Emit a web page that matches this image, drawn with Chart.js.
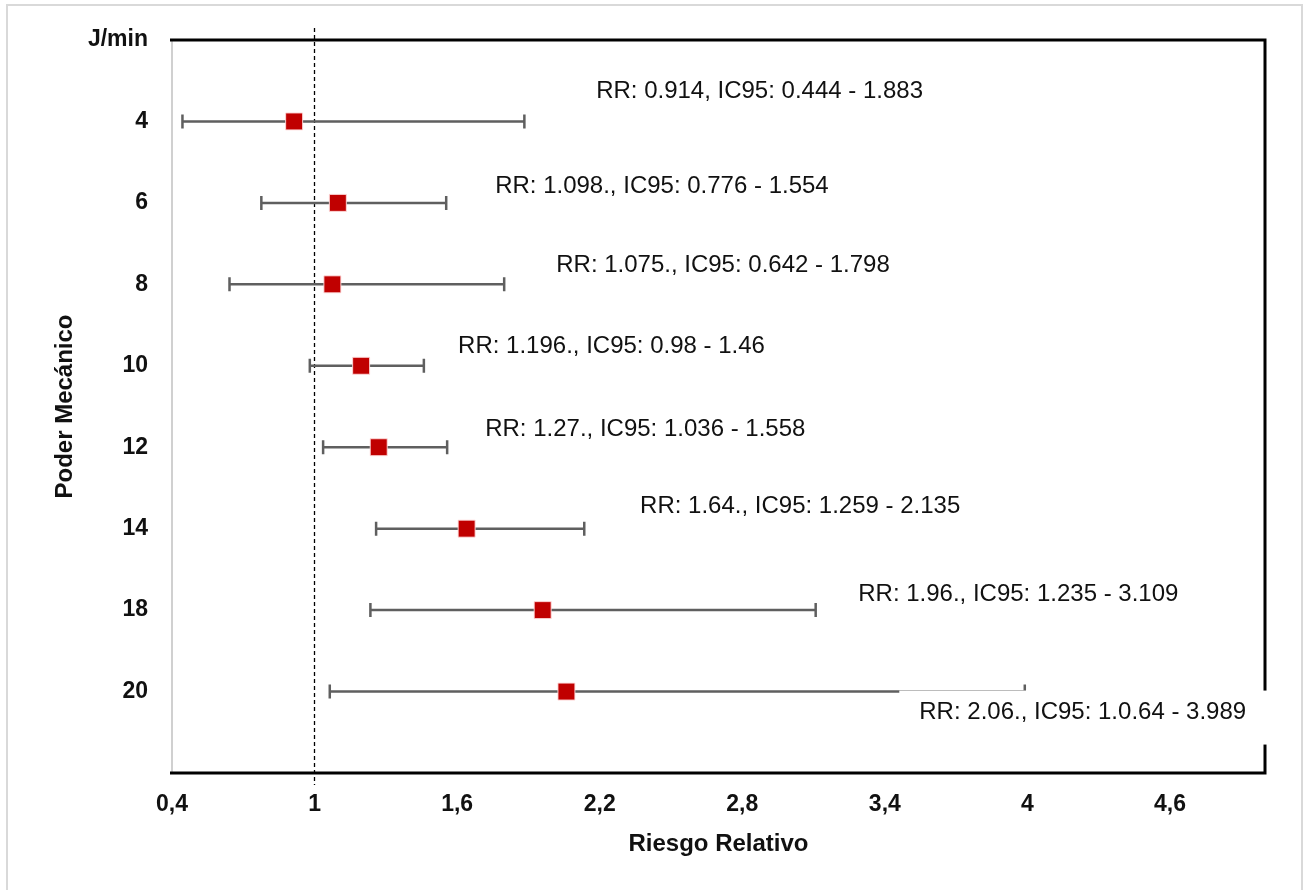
<!DOCTYPE html>
<html>
<head>
<meta charset="utf-8">
<script src="https://cdn.jsdelivr.net/npm/chart.js@4"></script>
<style>
  html, body { margin: 0; padding: 0; background: #fff; }
  #wrap { width: 1304px; height: 890px; }
</style>
</head>
<body>
<div id="wrap"><canvas id="c" width="1304" height="890"></canvas></div>
<script>
// Forest plot: relative risk by mechanical power (J/min)

const CATEGORIES = ["J/min", "4", "6", "8", "10", "12", "14", "18", "20"];
const GROUPS = ["4", "6", "8", "10", "12", "14", "18", "20"];
const RR = [0.914, 1.098, 1.075, 1.196, 1.27, 1.64, 1.96, 2.06];
const CI_LOW = [0.444, 0.776, 0.642, 0.98, 1.036, 1.259, 1.235, 1.064];
const CI_HIGH = [1.883, 1.554, 1.798, 1.46, 1.558, 2.135, 3.109, 3.989];
const RR_TEXT = [
  "RR: 0.914, IC95: 0.444 - 1.883",
  "RR: 1.098., IC95: 0.776 - 1.554",
  "RR: 1.075., IC95: 0.642 - 1.798",
  "RR: 1.196., IC95: 0.98 - 1.46",
  "RR: 1.27., IC95: 1.036 - 1.558",
  "RR: 1.64., IC95: 1.259 - 2.135",
  "RR: 1.96., IC95: 1.235 - 3.109",
  "RR: 2.06., IC95: 1.0.64 - 3.989",
];
const X_TICKS = [0.4, 1, 1.6, 2.2, 2.8, 3.4, 4, 4.6];
const REF_LINE = 1;

// where each annotation sits: x in axis units, dy in px from its row
const LABEL_X = [2.185, 1.76, 2.017, 1.604, 1.718, 2.37, 3.288, 3.545];
const LABEL_DY = [-30, -17, -19, -19, -18, -22, -16, 21];
const BOXED = [false, false, false, false, false, false, false, true];

const FONT = "'Liberation Sans', Arial, sans-serif";
const rowY = (g) => CATEGORIES.length - CATEGORIES.indexOf(g);

const frame = {
  id: "frame",
  beforeDraw(chart) {
    const { ctx } = chart;
    ctx.save();
    ctx.strokeStyle = "#d9d9d9";
    ctx.lineWidth = 2;
    ctx.strokeRect(7, 5, 1295, 886);
    ctx.restore();
  },
  beforeDatasetsDraw(chart) {
    const { ctx, chartArea: a, scales: { x, y } } = chart;
    ctx.save();
    // reference line at RR = 1
    const rx = Math.round(x.getPixelForValue(REF_LINE)) - 0.5;
    ctx.strokeStyle = "#000";
    ctx.lineWidth = 1.3;
    ctx.setLineDash([4, 3]);
    ctx.beginPath();
    ctx.moveTo(rx, a.top - 12);
    ctx.lineTo(rx, a.bottom + 12);
    ctx.stroke();
    ctx.setLineDash([]);
    // confidence intervals
    ctx.strokeStyle = "#5f5f5f";
    ctx.lineWidth = 2.5;
    GROUPS.forEach((g, i) => {
      const py = y.getPixelForValue(rowY(g));
      const x0 = x.getPixelForValue(CI_LOW[i]);
      const x1 = x.getPixelForValue(CI_HIGH[i]);
      ctx.beginPath();
      ctx.moveTo(x0, py); ctx.lineTo(x1, py);
      ctx.moveTo(x0, py - 7); ctx.lineTo(x0, py + 7);
      ctx.moveTo(x1, py - 7); ctx.lineTo(x1, py + 7);
      ctx.stroke();
    });
    ctx.restore();
  },
  afterDatasetsDraw(chart) {
    const { ctx, chartArea: a, scales: { x, y } } = chart;
    ctx.save();
    // axis frame
    ctx.strokeStyle = "#d0d0d0";
    ctx.lineWidth = 2;
    ctx.beginPath();
    ctx.moveTo(a.left, a.top); ctx.lineTo(a.left, a.bottom);
    ctx.stroke();
    ctx.strokeStyle = "#000";
    ctx.lineWidth = 3;
    ctx.beginPath();
    ctx.moveTo(a.left - 2, a.top); ctx.lineTo(a.right, a.top);
    ctx.lineTo(a.right, a.bottom); ctx.lineTo(a.left - 2, a.bottom);
    ctx.stroke();
    // annotations
    ctx.font = "24px " + FONT;
    ctx.textBaseline = "middle";
    ctx.textAlign = "left";
    GROUPS.forEach((g, i) => {
      const tx = x.getPixelForValue(LABEL_X[i]);
      const ty = y.getPixelForValue(rowY(g)) + LABEL_DY[i];
      if (BOXED[i]) {
        const w = ctx.measureText(RR_TEXT[i]).width;
        ctx.fillStyle = "#fff";
        ctx.fillRect(tx - 20, ty - 22, w + 52, 54);
      }
      ctx.fillStyle = "#111";
      ctx.fillText(RR_TEXT[i], tx, ty);
    });
    ctx.restore();
  },
};

new Chart(document.getElementById("c"), {
  type: "scatter",
  data: {
    datasets: [{
      data: GROUPS.map((g, i) => ({ x: RR[i], y: rowY(g) })),
      pointStyle: "rect",
      pointRadius: 12,
      pointHoverRadius: 12,
      backgroundColor: "#c00000",
      borderColor: "rgba(255,220,220,0.9)",
      borderWidth: 1,
    }],
  },
  options: {
    responsive: false,
    animation: false,
    events: [],
    layout: { padding: { top: 40, right: 39, left: 0, bottom: 0 } },
    plugins: { legend: { display: false }, tooltip: { enabled: false } },
    scales: {
      x: {
        type: "linear",
        min: 0.4,
        max: 5.0,
        afterBuildTicks: (s) => { s.ticks = X_TICKS.map((v) => ({ value: v })); },
        afterFit: (s) => { s.height = 117; },
        grid: { display: false, drawTicks: false },
        border: { display: false },
        ticks: {
          padding: 18,
          color: "#111",
          font: { family: FONT, size: 23, weight: "bold" },
          callback: (v) => String(v).replace(".", ","),
          maxRotation: 0,
        },
        title: {
          display: true,
          text: "Riesgo Relativo",
          color: "#111",
          font: { family: FONT, size: 24, weight: "bold", lineHeight: 1.2 },
          padding: { top: 0, bottom: 31 },
        },
      },
      y: {
        type: "linear",
        min: 0,
        max: CATEGORIES.length,
        afterBuildTicks: (s) => { s.ticks = CATEGORIES.map((c) => ({ value: rowY(c) })); },
        afterFit: (s) => { s.width = 172; },
        grid: { display: false, drawTicks: false },
        border: { display: false },
        ticks: {
          padding: 24,
          color: "#111",
          font: { family: FONT, size: 23, weight: "bold" },
          callback: (v) => CATEGORIES[CATEGORIES.length - v] ?? "",
        },
        title: {
          display: true,
          text: "Poder Mecánico",
          color: "#111",
          font: { family: FONT, size: 24, weight: "bold", lineHeight: 1.2 },
          padding: { top: 51, bottom: 0 },
        },
      },
    },
  },
  plugins: [frame],
});
</script>
</body>
</html>
